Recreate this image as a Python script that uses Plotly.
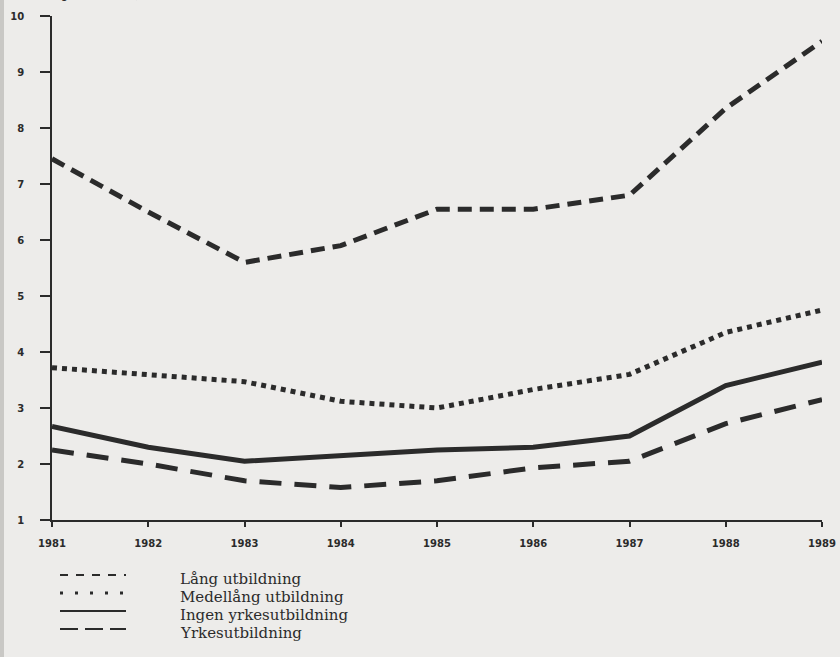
import plotly.graph_objects as go

years = [1981, 1982, 1983, 1984, 1985, 1986, 1987, 1988, 1989]
lang = [7.45, 6.5, 5.6, 5.9, 6.55, 6.55, 6.8, 8.35, 9.55]
medellang = [3.72, 3.6, 3.47, 3.12, 3.0, 3.33, 3.6, 4.35, 4.75]
ingen = [2.67, 2.3, 2.05, 2.15, 2.25, 2.3, 2.5, 3.4, 3.82]
yrkes = [2.25, 2.0, 1.7, 1.58, 1.7, 1.93, 2.05, 2.72, 3.15]
series_names = ["Lång utbildning", "Medellång utbildning", "Ingen yrkesutbildning", "Yrkesutbildning"]
y_ticks = [1, 2, 3, 4, 5, 6, 7, 8, 9, 10]

INK = "#2b2b2b"
BG = "#edecea"
W, H = 840, 657
L, R, T, B = 52, 18, 16, 137

dashes = ["14px,8px", "5px,5px", "solid", "22px,13px"]
series = [lang, medellang, ingen, yrkes]

fig = go.Figure()
for name, vals, d in zip(series_names, series, dashes):
    fig.add_trace(go.Scatter(x=years, y=vals, mode="lines", name=name,
                             line=dict(color=INK, width=5, dash=d),
                             showlegend=False, hoverinfo="skip"))

pw, ph = W - L - R, H - T - B
def px2x(px):
    return (px - L) / pw
def px2y(py):
    return (H - B - py) / ph

# manual legend (styling only)
leg_rows = [576, 594, 612, 630]
leg_dash = [dict(width=2, dash="8px,8px"), dict(width=3, dash="3px,12px"),
            dict(width=2, dash="solid"), dict(width=2, dash="18px,7px")]
shapes = []
annotations = []
for name, yy, ld in zip(series_names, leg_rows, leg_dash):
    shapes.append(dict(type="line", xref="paper", yref="paper",
                       x0=px2x(60), x1=px2x(126), y0=px2y(yy - 1), y1=px2y(yy - 1),
                       line=dict(color=INK, **ld)))
    annotations.append(dict(text=name, xref="paper", yref="paper",
                            x=px2x(178), y=px2y(yy + 3), xanchor="left", yanchor="middle",
                            showarrow=False,
                            font=dict(family="DejaVu Serif, serif", size=15, color=INK)))

annotations.append(dict(text="(per 1 000)", xref="paper", yref="paper",
                        x=px2x(54), y=px2y(4), xanchor="left", yanchor="bottom",
                        showarrow=False,
                        font=dict(family="DejaVu Serif, serif", size=15, color=INK)))

# darker page edge on the left
shapes.append(dict(type="rect", xref="paper", yref="paper", layer="below",
                   x0=px2x(0), x1=px2x(4), y0=px2y(H), y1=px2y(0),
                   fillcolor="#c9c8c5", line=dict(width=0)))

tickfont = dict(family="DejaVu Sans, sans-serif", size=10, color=INK, weight="bold")

fig.update_layout(
    width=W, height=H,
    margin=dict(l=L, r=R, t=T, b=B, autoexpand=False),
    paper_bgcolor=BG, plot_bgcolor=BG,
    shapes=shapes, annotations=annotations,
    hovermode=False,
    xaxis=dict(range=[1981, 1989], tickmode="array", tickvals=years,
               ticktext=[str(y) for y in years],
               showgrid=False, zeroline=False, showline=True, linecolor=INK, linewidth=2,
               ticks="outside", ticklen=5, tickwidth=1.5, tickcolor=INK,
               ticklabelstandoff=8, automargin=False,
               tickfont=tickfont),
    yaxis=dict(range=[1, 10], tickmode="array", tickvals=y_ticks,
               showgrid=False, zeroline=False, showline=True, linecolor=INK, linewidth=1.5,
               ticks="outside", ticklen=10, tickwidth=1.5, tickcolor=INK,
               ticklabelstandoff=14, automargin=False,
               tickfont=tickfont),
)

fig.write_html("out.html", config={"displayModeBar": False},
               post_script="document.body.style.margin='0';")
